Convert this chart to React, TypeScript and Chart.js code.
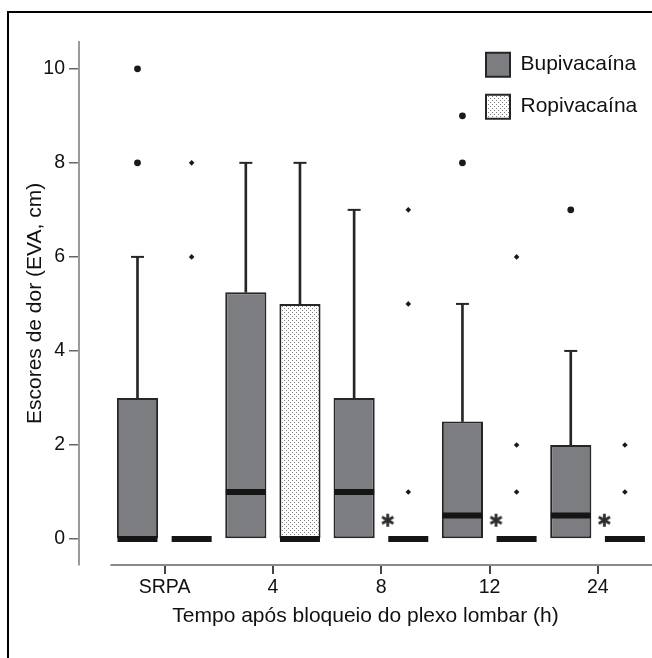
import React, { useEffect, useRef } from 'react';
import { Chart, registerables } from 'chart.js';

Chart.register(...registerables);

// ---- data (pain scores, EVA cm) ----
const categories = ['SRPA', '4', '8', '12', '24'];

const bupiQ1 = [0, 0, 0, 0, 0];
const bupiMedian = [0, 1, 1, 0.5, 0.5];
const bupiQ3 = [3, 5.25, 3, 2.5, 2];
const bupiMax = [6, 8, 7, 5, 4];
const bupiOutliers = [[8, 10], [], [], [8, 9], [7]];

const ropiQ1 = [0, 0, 0, 0, 0];
const ropiMedian = [0, 0, 0, 0, 0];
const ropiQ3 = [0, 5, 0, 0, 0];
const ropiMax = [0, 8, 0, 0, 0];
const ropiOutliers = [[6, 8], [], [1, 5, 7], [1, 2, 6], [1, 2]];

// significance asterisk (y level of the marker), null = none
const significanceY = [null, null, 0.4, 0.4, 0.4];

const yTickStep = 2;
const yMin = -0.55;
const yMax = 10.57;

const FONT = "'Liberation Sans', Arial, Helvetica, sans-serif";
const DODGE = 0.25;
const BUPI_COLOR = '#7c7d81';
const EDGE = '#262626';

function makeDotPattern(ctx: CanvasRenderingContext2D) {
  const c = document.createElement('canvas');
  c.width = 4;
  c.height = 4;
  const g = c.getContext('2d')!;
  g.fillStyle = '#ffffff';
  g.fillRect(0, 0, 4, 4);
  g.fillStyle = '#7a7a7a';
  g.fillRect(0, 0, 1, 1);
  g.fillRect(2, 2, 1, 1);
  return ctx.createPattern(c, 'repeat');
}

// six-rayed asterisk marker image
function makeAsterisk() {
  const s = 15;
  const c = document.createElement('canvas');
  c.width = s;
  c.height = s;
  const g = c.getContext('2d')!;
  g.strokeStyle = '#2e2e2e';
  g.lineWidth = 2.8;
  g.lineCap = 'butt';
  const r = 6.5;
  for (let k = 0; k < 3; k++) {
    const a = Math.PI / 2 + (k * Math.PI) / 3;
    g.beginPath();
    g.moveTo(s / 2 - r * Math.cos(a), s / 2 - r * Math.sin(a));
    g.lineTo(s / 2 + r * Math.cos(a), s / 2 + r * Math.sin(a));
    g.stroke();
  }
  return c;
}

const xAxisLinePlugin = {
  id: 'xAxisLine',
  afterDraw(chart: any) {
    const xs = chart.scales.x;
    const { ctx, chartArea } = chart;
    ctx.save();
    ctx.strokeStyle = '#8a8a8a';
    ctx.lineWidth = 2;
    ctx.beginPath();
    ctx.moveTo(xs.getPixelForValue(-0.5), chartArea.bottom);
    ctx.lineTo(chartArea.right, chartArea.bottom);
    ctx.stroke();
    ctx.restore();
  },
};

const legendPlacePlugin = {
  id: 'legendPlace',
  beforeDraw(chart: any) {
    const lg = chart.legend;
    if (!lg) return;
    lg.left = chart.chartArea.right - 184;
    lg.right = chart.width;
    lg.top = 34.7;
    lg.bottom = 170;
    lg.width = lg.right - lg.left;
    lg.height = lg.bottom - lg.top;
  },
};

export default function App() {
  const ref = useRef<HTMLCanvasElement>(null);

  useEffect(() => {
    const canvas = ref.current!;
    const ctx = canvas.getContext('2d')!;
    const dots = makeDotPattern(ctx);
    const asterisk = makeAsterisk();

    const series = [
      { q1: bupiQ1, med: bupiMedian, q3: bupiQ3, max: bupiMax, out: bupiOutliers, dx: -DODGE },
      { q1: ropiQ1, med: ropiMedian, q3: ropiQ3, max: ropiMax, out: ropiOutliers, dx: DODGE },
    ];

    const whiskers: any[] = [];
    const caps: any[] = [];
    const medians: any[] = [];
    series.forEach((s) => {
      categories.forEach((_, i) => {
        const x = i + s.dx;
        if (s.max[i] > s.q3[i]) {
          whiskers.push({ x, y: [s.q3[i], s.max[i]] });
          caps.push({ x, y: s.max[i] });
        }
        medians.push({ x, y: s.med[i] });
      });
    });

    const outPts = (s: any) => {
      const pts: any[] = [];
      s.out.forEach((vals: number[], i: number) => vals.forEach((v) => pts.push({ x: i + s.dx, y: v })));
      return pts;
    };

    const stars: any[] = [];
    significanceY.forEach((v, i) => {
      if (v !== null) stars.push({ x: i + 0.06, y: v });
    });

    const boxCommon = {
      type: 'bar',
      grouped: false,
      barPercentage: 0.76,
      categoryPercentage: 1,
      borderColor: EDGE,
      borderWidth: 2,
      borderSkipped: false,
      order: 3,
    };

    const chart = new Chart(ctx, {
      type: 'bar',
      data: {
        datasets: [
          {
            ...boxCommon,
            label: 'Bupivacaína',
            backgroundColor: BUPI_COLOR,
            data: categories.map((_, i) => ({ x: i - DODGE, y: [bupiQ1[i], bupiQ3[i]] })),
          } as any,
          {
            ...boxCommon,
            label: 'Ropivacaína',
            backgroundColor: dots,
            data: categories.map((_, i) => ({ x: i + DODGE, y: [ropiQ1[i], ropiQ3[i]] })),
          } as any,
          {
            type: 'bar',
            label: 'whiskers',
            grouped: false,
            maxBarThickness: 2,
            barPercentage: 1,
            categoryPercentage: 1,
            backgroundColor: EDGE,
            borderWidth: 0,
            data: whiskers,
            order: 4,
          } as any,
          {
            type: 'scatter',
            label: 'caps',
            data: caps,
            pointStyle: 'line',
            pointRadius: 6.5,
            pointBorderWidth: 2,
            pointBorderColor: EDGE,
            order: 2,
          } as any,
          {
            type: 'scatter',
            label: 'medians',
            data: medians,
            pointStyle: 'line',
            pointRadius: 20,
            pointBorderWidth: 6,
            pointBorderColor: '#151515',
            order: 1,
          } as any,
          {
            type: 'scatter',
            label: 'outliers B',
            data: outPts(series[0]),
            pointStyle: 'circle',
            pointRadius: 3.4,
            pointBorderWidth: 0,
            pointBackgroundColor: '#1a1a1a',
            order: 0,
          } as any,
          {
            type: 'scatter',
            label: 'outliers R',
            data: outPts(series[1]),
            pointStyle: 'rectRot',
            pointRadius: 2.8,
            pointBorderWidth: 0,
            pointBackgroundColor: '#1a1a1a',
            order: 0,
          } as any,
          {
            type: 'scatter',
            label: 'significance',
            data: stars,
            pointStyle: asterisk,
            pointRadius: 7,
            order: 0,
          } as any,
        ],
      },
      options: {
        responsive: false,
        animation: false,
        events: [],
        layout: { autoPadding: false, padding: { top: 42, left: 23, right: 0, bottom: 29 } },
        plugins: {
          tooltip: { enabled: false },
          legend: {
            display: true,
            position: 'chartArea',
            fullSize: false,
            align: 'start',
            labels: {
              boxWidth: 24,
              boxHeight: 24,
              padding: 18,
              color: '#111',
              font: { family: FONT, size: 21 },
              filter: (item: any) => item.datasetIndex < 2,
            },
          },
        },
        scales: {
          x: {
            type: 'linear',
            min: -0.79,
            max: 4.5,
            offset: false,
            afterFit: (scale: any) => {
              scale.paddingLeft = 0;
              scale.paddingRight = 0;
            },
            border: { display: false },
            grid: { drawOnChartArea: false, drawTicks: true, tickLength: 9, color: '#444', lineWidth: 2, offset: false },
            ticks: {
              stepSize: 1,
              includeBounds: false,
              autoSkip: false,
              maxRotation: 0,
              padding: 2,
              color: '#111',
              font: { family: FONT, size: 19.5 },
              callback: (v: any) => (categories[v as number] ?? ''),
            },
            title: {
              display: true,
              text: 'Tempo após bloqueio do plexo lombar (h)',
              color: '#111',
              font: { family: FONT, size: 21 },
              padding: { top: 2.5, bottom: 0 },
            },
          },
          y: {
            min: yMin,
            max: yMax,
            afterFit: (scale: any) => {
              scale.width = 56;
            },
            border: { display: true, color: '#9a9a9a', width: 2 },
            grid: { drawOnChartArea: false, drawTicks: true, tickLength: 10, color: '#666', lineWidth: 1.5 },
            ticks: {
              stepSize: yTickStep,
              includeBounds: false,
              padding: 4,
              color: '#111',
              font: { family: FONT, size: 19.5 },
            },
            title: {
              display: true,
              text: 'Escores de dor (EVA, cm)',
              color: '#111',
              font: { family: FONT, size: 21 },
              padding: { top: 0, bottom: 0 },
            },
          },
        },
      } as any,
      plugins: [xAxisLinePlugin, legendPlacePlugin],
    });

    return () => chart.destroy();
  }, []);

  return (
    <div style={{ position: 'fixed', left: 0, top: 0, width: 652, height: 658, overflow: 'hidden', background: '#fff' }}>
      <div
        style={{
          position: 'absolute',
          left: 7,
          top: 11,
          width: 700,
          height: 700,
          borderTop: '2px solid #000',
          borderLeft: '2px solid #000',
        }}
      />
      <canvas ref={ref} width={652} height={658} style={{ position: 'absolute', left: 0, top: 0, width: 652, height: 658 }} />
    </div>
  );
}
